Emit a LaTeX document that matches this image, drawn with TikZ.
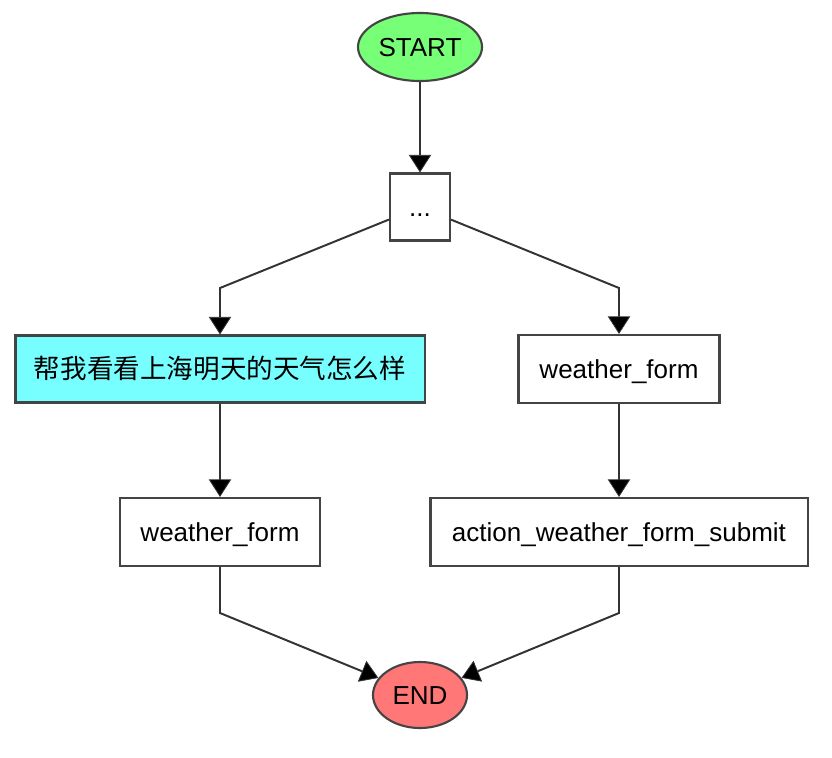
\documentclass[tikz,border=0pt]{standalone}
\usepackage{fontspec}
\setmainfont{Liberation Sans}
\newfontfamily\cjk{Noto Sans CJK SC}
\usepackage{xcolor}
\usepackage{tikz}
\usetikzlibrary{shapes.geometric,arrows.meta,positioning,calc}

\definecolor{startgreen}{HTML}{77FF77}
\definecolor{endred}{HTML}{FF7777}
\definecolor{usercyan}{HTML}{77FFFF}
\definecolor{edgegray}{HTML}{333333}
\definecolor{bordergray}{HTML}{444444}

\begin{document}
\begin{tikzpicture}[
    x=0.025cm, y=-0.025cm,
    font=\fontsize{18.5}{21}\selectfont,
    terminal/.style={ellipse, draw=bordergray, line width=1.5pt, inner sep=0pt, text height=0.45cm, text depth=0pt},
    actbox/.style={rectangle, draw=bordergray, fill=white, line width=1.5pt, inner sep=0pt, minimum height=1.7cm, text centered, text height=0.45cm, text depth=0pt},
    userbox/.style={actbox, fill=usercyan},
    arrow/.style={draw=edgegray, line width=1.4pt, -{Triangle[width=0.56cm, length=0.44cm, fill=black, line width=0.6pt]}}
]
    \useasboundingbox (0,0) rectangle (832,757);

    % Start / End
    \node (start) at (420,47) [terminal, fill=startgreen, minimum width=3.1cm, minimum height=1.7cm] {START};
    \node (stop) at (420,695) [terminal, fill=endred, minimum width=2.35cm, minimum height=1.65cm] {END};

    % Row 1: placeholder
    \node (dots) at (420,207) [actbox, minimum width=1.5cm, minimum height=1.675cm] {...};

    % Row 2: user turn & form
    \node (query) at (220,369) [userbox, minimum width=10.225cm, minimum height=1.675cm] {\cjk\fontsize{18.9}{22}\selectfont 帮我看看上海明天的天气怎么样};
    \node (formright) at (619,369) [actbox, minimum width=5.025cm] {weather\_form};

    % Row 3: actions
    \node (formleft) at (220,532) [actbox, minimum width=5.0cm] {weather\_form};
    \node (submit) at (619,532) [actbox, minimum width=9.425cm] {action\_weather\_form\_submit};

    % Bend points
    \coordinate (splitl) at (220,288);
    \coordinate (splitr) at (619,288);
    \coordinate (joinl) at (220,613);
    \coordinate (joinr) at (619,613);

    % Connections
    \draw [arrow] (start) -- (dots);
    \draw [arrow] (dots) -- (splitl) -- (query);
    \draw [arrow] (dots) -- (splitr) -- (formright);
    \draw [arrow] (query) -- (formleft);
    \draw [arrow] (formright) -- (submit);
    \draw [arrow] (formleft) -- (joinl) -- (stop);
    \draw [arrow] (submit) -- (joinr) -- (stop);
\end{tikzpicture}
\end{document}
